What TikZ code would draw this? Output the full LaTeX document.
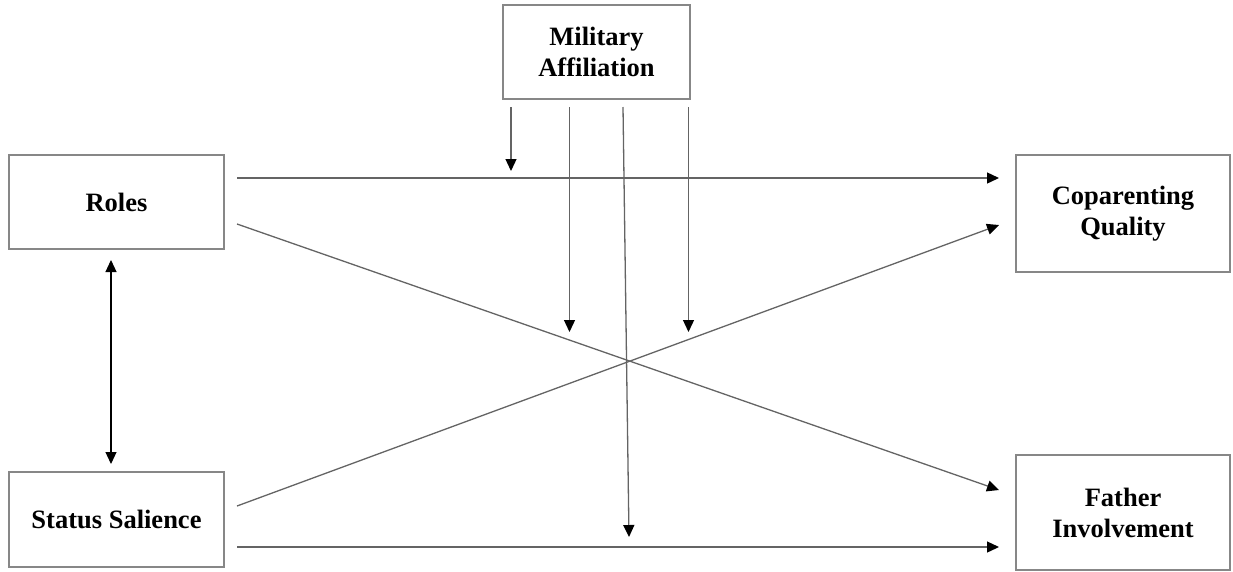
\documentclass[tikz,border=0pt]{standalone}
\usepackage{fontspec}
\setmainfont{Liberation Serif}
\usetikzlibrary{arrows.meta}
\definecolor{boxgray}{RGB}{135,135,135}
\definecolor{linegray}{RGB}{100,100,100}
\begin{document}
\begin{tikzpicture}[x=1pt,y=-1pt,
  box/.style={draw=boxgray,line width=1.2pt,inner sep=0pt,align=center,
    font=\bfseries\fontsize{26.5}{31}\selectfont},
  conn/.style={draw=linegray,line width=1.3pt,
    -{Triangle[length=12pt,width=11pt,black]}},
  dconn/.style={draw=black,line width=1.2pt,
    {Triangle[length=12pt,width=11pt,black]}-{Triangle[length=12pt,width=11pt,black]}}]
\useasboundingbox (0,0) rectangle (1233,571);
\node[box,minimum width=187pt,minimum height=94pt] (mil) at (596.5,52) {Military\\Affiliation};
\node[box,minimum width=215pt,minimum height=94pt] (roles) at (116.5,202) {Roles};
\node[box,minimum width=215pt,minimum height=95pt] (status) at (116.5,519.5) {Status Salience};
\node[box,minimum width=214pt,minimum height=117pt] (cop) at (1123,213.5) {Coparenting\\Quality};
\node[box,minimum width=214pt,minimum height=115pt] (fat) at (1123,512.5) {Father\\Involvement};
% connector end points
\coordinate (r1) at (237,178);
\coordinate (r2) at (237,224);
\coordinate (s1) at (237,506);
\coordinate (s2) at (237,547);
\coordinate (c1) at (999,178);
\coordinate (c2) at (999,225);
\coordinate (f1) at (999,490);
\coordinate (f2) at (999,547);
\coordinate (m1) at (511,107);
\coordinate (m2) at (569.5,107);
\coordinate (m3) at (623,107);
\coordinate (m4) at (688.5,107);
\coordinate (t1) at (511,171);
\coordinate (t2) at (569.5,332);
\coordinate (t3) at (629,537);
\coordinate (t4) at (688.5,332);
\coordinate (ru) at (111,260);
\coordinate (sd) at (111,464);
\draw[conn] (r1) -- (c1);
\draw[conn] (r2) -- (f1);
\draw[conn] (s1) -- (c2);
\draw[conn] (s2) -- (f2);
\draw[conn] (m1) -- (t1);
\draw[conn] (m2) -- (t2);
\draw[conn] (m3) -- (t3);
\draw[conn] (m4) -- (t4);
\draw[dconn] (ru) -- (sd);
\end{tikzpicture}
\end{document}
